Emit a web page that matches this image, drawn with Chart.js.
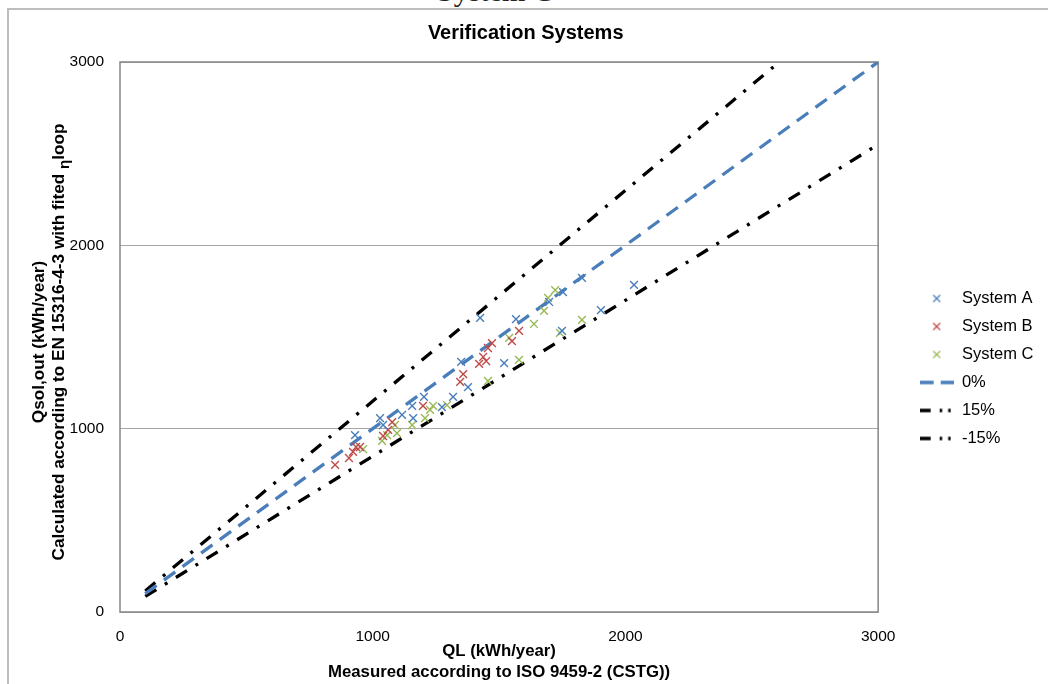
<!DOCTYPE html>
<html>
<head>
<meta charset="utf-8">
<script src="https://cdn.jsdelivr.net/npm/chart.js@4.4.0/dist/chart.umd.min.js"></script>
<style>
  html, body { margin: 0; padding: 0; background: #fff; overflow: hidden; }
  #wrap { position: relative; width: 1048px; height: 684px; }
  #cut { position: absolute; left: 437px; top: -24px; font: 30px/1 "Liberation Serif", "Times New Roman", serif; color: #222; white-space: nowrap; }
  canvas { position: absolute; left: 0; top: 0; }
</style>
</head>
<body>
<div id="wrap">
  <div id="cut">System C</div>
  <canvas id="qlChart" width="1048" height="684"></canvas>
</div>
<script>
const FONT = '"Liberation Sans", Arial, Helvetica, sans-serif';

// measured (x) vs calculated (y), kWh/year
const sysAx = [930, 1029, 1041, 1116, 1156, 1160, 1203, 1274, 1318, 1350, 1377, 1425, 1520, 1567, 1698, 1749, 1753, 1828, 1903, 2034];
const sysAy = [965, 1058, 1020, 1075, 1124, 1058, 1173, 1118, 1173, 1364, 1227, 1604, 1358, 1598, 1691, 1533, 1745, 1822, 1647, 1784];
const sysBx = [851, 906, 922, 934, 950, 1041, 1061, 1077, 1199, 1346, 1358, 1421, 1437, 1449, 1456, 1472, 1551, 1579];
const sysBy = [802, 840, 873, 900, 900, 960, 993, 1036, 1124, 1255, 1298, 1353, 1391, 1369, 1440, 1467, 1478, 1533];
const sysCx = [962, 1037, 1057, 1088, 1096, 1156, 1207, 1227, 1239, 1294, 1456, 1540, 1579, 1638, 1678, 1694, 1722, 1741, 1828];
const sysCy = [889, 933, 965, 1020, 976, 1020, 1058, 1102, 1124, 1129, 1260, 1495, 1375, 1571, 1642, 1713, 1756, 1522, 1593];

// reference lines (0%, +15%, -15%)
const refX = [100, 3000];
const refY = [100, 3000];
const upX = [100, 2609];
const upY = [115, 3000];
const lowX = [100, 3000];
const lowY = [85, 2550];

const seriesNames = ["System A", "System B", "System C", "0%", "15%", "-15%"];
const xTitle = ["QL (kWh/year)", "Measured according to ISO 9459-2 (CSTG))"];
const yTitle1 = "Qsol,out (kWh/year)";
const yTitle2 = "Calculated according to EN 15316-4-3 with fited ";

const blue = "#4a7ebb", red = "#be4b48", green = "#98b954";

function toPoints(xs, ys) {
  return xs.map((x, i) => ({ x: x, y: ys[i] }));
}

// little legend icons
function crossIcon(color) {
  let c = document.createElement("canvas");
  c.width = 12; c.height = 12;
  let g = c.getContext("2d");
  g.strokeStyle = color; g.lineWidth = 1.3;
  g.beginPath();
  g.moveTo(2.5, 2.5); g.lineTo(9.5, 9.5);
  g.moveTo(9.5, 2.5); g.lineTo(2.5, 9.5);
  g.stroke();
  return c;
}
function lineIcon(color, dash) {
  let c = document.createElement("canvas");
  c.width = 34; c.height = 6;
  let g = c.getContext("2d");
  g.strokeStyle = color; g.lineWidth = 3.5; g.setLineDash(dash);
  g.beginPath(); g.moveTo(0, 3); g.lineTo(34, 3); g.stroke();
  return c;
}
const legendIcons = [
  crossIcon(blue), crossIcon(red), crossIcon(green),
  lineIcon(blue, [14, 7]),
  lineIcon("#000", [11, 9, 2.5, 6, 2.5, 6]),
  lineIcon("#000", [11, 9, 2.5, 6, 2.5, 6]),
];

function scatterSet(label, xs, ys, color) {
  return {
    label: label,
    data: toPoints(xs, ys),
    pointStyle: "crossRot",
    pointRadius: 5.5,
    pointBorderWidth: 1.4,
    borderColor: color,
    backgroundColor: color,
    showLine: false,
  };
}
function lineSet(label, xs, ys, color, dash) {
  return {
    label: label,
    data: toPoints(xs, ys),
    showLine: true,
    pointRadius: 0,
    borderColor: color,
    backgroundColor: color,
    borderWidth: 3.3,
    borderDash: dash,
    fill: false,
  };
}

const decor = {
  id: "decor",
  beforeDraw(chart) {
    let ctx = chart.ctx;
    ctx.save();
    ctx.strokeStyle = "#bdbdbd";
    ctx.lineWidth = 2;
    ctx.beginPath();
    ctx.moveTo(8, 700); ctx.lineTo(8, 9); ctx.lineTo(1060, 9);
    ctx.stroke();
    ctx.restore();
  },
  beforeDatasetsDraw(chart) {
    let ctx = chart.ctx, a = chart.chartArea;
    ctx.save();
    ctx.strokeStyle = "#868686";
    ctx.lineWidth = 1.5;
    ctx.strokeRect(a.left, a.top, a.right - a.left, a.bottom - a.top);
    ctx.restore();
  },
  afterDraw(chart) {
    // y axis title, with the subscript eta
    let ctx = chart.ctx;
    let cy = 342;
    let big = "bold 17.2px " + FONT, small = "bold 15px " + FONT;
    ctx.save();
    ctx.fillStyle = "#000";
    ctx.textBaseline = "middle";
    ctx.font = big;
    ctx.translate(39, cy);
    ctx.rotate(-Math.PI / 2);
    ctx.textAlign = "center";
    ctx.fillText(yTitle1, 0, 0);
    ctx.restore();

    ctx.save();
    ctx.fillStyle = "#000";
    ctx.textBaseline = "middle";
    ctx.translate(59, cy);
    ctx.rotate(-Math.PI / 2);
    ctx.textAlign = "left";
    ctx.font = big;
    let w1 = ctx.measureText(yTitle2).width;
    let w3 = ctx.measureText("loop").width;
    ctx.font = small;
    let w2 = ctx.measureText("η").width;
    let x = -(w1 + w2 + w3) / 2;
    ctx.font = big;
    ctx.fillText(yTitle2, x, 0);
    x += w1;
    ctx.font = small;
    ctx.fillText("η", x, 6);
    x += w2;
    ctx.font = big;
    ctx.fillText("loop", x, 0);
    ctx.restore();
  },
};

Chart.defaults.font.family = FONT;
Chart.defaults.color = "#000";

let ctx = document.getElementById("qlChart").getContext("2d");
let qlChart = new Chart(ctx, {
  type: "scatter",
  data: {
    datasets: [
      scatterSet(seriesNames[0], sysAx, sysAy, blue),
      scatterSet(seriesNames[1], sysBx, sysBy, red),
      scatterSet(seriesNames[2], sysCx, sysCy, green),
      lineSet(seriesNames[3], refX, refY, blue, [14, 9]),
      lineSet(seriesNames[4], upX, upY, "#000", [13, 10, 3, 10]),
      lineSet(seriesNames[5], lowX, lowY, "#000", [13, 10, 3, 10]),
    ],
  },
  options: {
    responsive: false,
    animation: false,
    devicePixelRatio: 1,
    layout: { padding: { left: 8, top: 9, right: 4.6, bottom: 0 } },
    plugins: {
      tooltip: { enabled: false },
      title: {
        display: true,
        text: "Verification Systems",
        color: "#000",
        font: { size: 20, weight: "bold" },
        padding: { top: 12, bottom: 17 },
      },
      legend: {
        position: "right",
        align: "center",
        title: { display: true, text: " ", font: { size: 20, lineHeight: 1 }, padding: { top: 12, bottom: 12 } },
        labels: {
          usePointStyle: true,
          pointStyleWidth: 34,
          padding: 11.5,
          color: "#000",
          font: { size: 16.5 },
          generateLabels: (chart) =>
            seriesNames.map((name, i) => ({
              text: name,
              pointStyle: legendIcons[i],
              datasetIndex: i,
              hidden: false,
              fontColor: "#000",
              lineWidth: 0,
            })),
        },
      },
    },
    scales: {
      x: {
        type: "linear",
        min: 0,
        max: 3000,
        ticks: { stepSize: 1000, padding: 15, maxRotation: 0, font: { size: 15.5 }, callback: (v) => String(v) },
        grid: { display: false, drawTicks: false },
        border: { display: false },
        title: {
          display: true,
          text: xTitle,
          font: { size: 16.8, weight: "bold", lineHeight: 1.25 },
          padding: { top: 0, bottom: 1 },
        },
        afterFit: (s) => { s.height = 72; },
      },
      y: {
        min: 0,
        max: 3000,
        ticks: { stepSize: 1000, padding: 16, font: { size: 15.5 }, callback: (v) => String(v) },
        grid: { color: "#a6a6a6", drawTicks: false },
        border: { display: false },
        afterFit: (s) => { s.width = 112; },
      },
      y2: {
        position: "right",
        min: 0,
        max: 3000,
        ticks: { display: false },
        grid: { display: false, drawTicks: false },
        border: { display: false },
        afterFit: (s) => { s.width = 30; },
      },
    },
  },
  plugins: [decor],
});
</script>
</body>
</html>
